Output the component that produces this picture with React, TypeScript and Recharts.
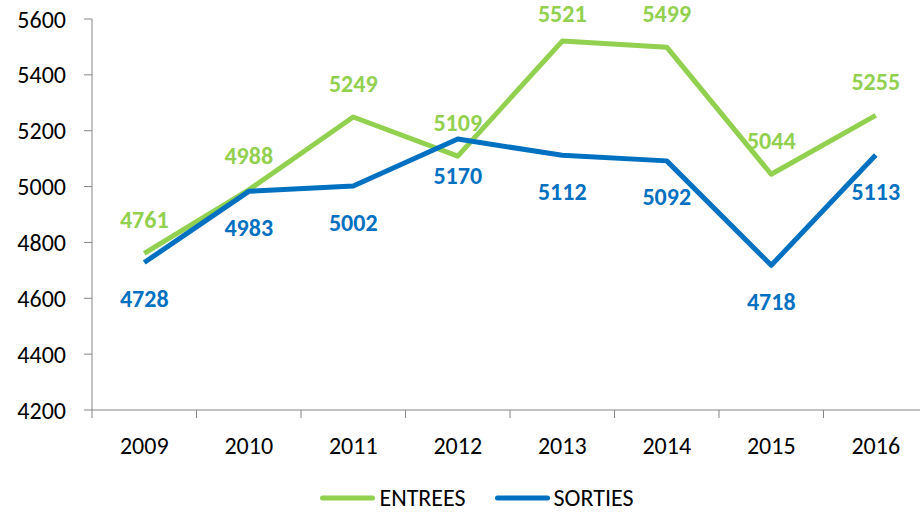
import { LineChart, Line, XAxis, YAxis, Legend, LabelList } from 'recharts'

const years = ['2009', '2010', '2011', '2012', '2013', '2014', '2015', '2016']
const entrees = [4761, 4988, 5249, 5109, 5521, 5499, 5044, 5255]
const sorties = [4728, 4983, 5002, 5170, 5112, 5092, 4718, 5113]
const yTicks = [4200, 4400, 4600, 4800, 5000, 5200, 5400, 5600]

const data = years.map((year, i) => ({ year, entrees: entrees[i], sorties: sorties[i] }))

const GREEN = '#92d050'
const BLUE = '#0070c0'
const AXIS = '#868686'
const FONT = 'Carlito, Calibri, Lato, sans-serif'
const FS = 24

const W = 940
const H = 514
const MARGIN = { top: 19, right: 12, bottom: 0, left: 0 }
const Y_W = 92
const X_H = 60
const LEG_H = 44
const BAND = (W - MARGIN.left - MARGIN.right - Y_W) / years.length
const AXIS_Y = H - MARGIN.bottom - LEG_H - X_H

function XTick(props: any) {
  const { x, payload, index } = props
  const last = index === years.length - 1
  return (
    <g>
      <line x1={x - BAND / 2} x2={x - BAND / 2} y1={AXIS_Y} y2={AXIS_Y + 8} stroke={AXIS} />
      {last && <line x1={x + BAND / 2} x2={x + BAND / 2} y1={AXIS_Y} y2={AXIS_Y + 8} stroke={AXIS} />}
      <text x={x} y={AXIS_Y + 35} textAnchor="middle" dominantBaseline="central" fontSize={FS} fill="#000" fontFamily={FONT}>
        {payload.value}
      </text>
    </g>
  )
}

// labels sit above (green) or below (blue) the point, kept inside the top edge like Excel does
const pointLabel = (color: string, dy: number) => (p: any) => (
  <text
    x={p.x}
    y={Math.max(p.y + dy, 13)}
    textAnchor="middle"
    dominantBaseline="central"
    fontSize={FS}
    fontWeight="bold"
    fill={color}
    fontFamily={FONT}
  >
    {p.value}
  </text>
)

function LegendBox() {
  const items = [
    { name: 'ENTREES', color: GREEN },
    { name: 'SORTIES', color: BLUE },
  ]
  return (
    <div
      style={{
        height: LEG_H,
        boxSizing: 'border-box',
        paddingTop: 14,
        paddingBottom: 2,
        paddingLeft: 26,
        display: 'flex',
        justifyContent: 'center',
        alignItems: 'center',
        gap: 29,
        fontFamily: FONT,
        fontSize: FS,
        lineHeight: 1,
        color: '#000',
      }}
    >
      {items.map(it => (
        <div key={it.name} style={{ display: 'flex', alignItems: 'center' }}>
          <svg width={55} height={10} style={{ marginRight: 4 }}>
            <line x1={2.5} x2={52.5} y1={5} y2={5} stroke={it.color} strokeWidth={5} strokeLinecap="round" />
          </svg>
          <span>{it.name}</span>
        </div>
      ))}
    </div>
  )
}

export default function App() {
  return (
    <div style={{ position: 'absolute', left: 0, top: 0, width: 920, height: 514, overflow: 'hidden', background: '#fff' }}>
      <LineChart width={W} height={H} data={data} margin={MARGIN}>
        <XAxis
          dataKey="year"
          height={X_H}
          padding={{ left: BAND / 2, right: BAND / 2 }}
          axisLine={{ stroke: AXIS }}
          tickLine={false}
          tick={<XTick />}
          interval={0}
        />
        <YAxis
          width={Y_W}
          domain={[4200, 5600]}
          ticks={yTicks}
          interval={0}
          allowDataOverflow
          axisLine={{ stroke: AXIS }}
          tickLine={{ stroke: AXIS }}
          tickSize={8}
          tickMargin={18}
          tick={{ fill: '#000', fontSize: FS, fontFamily: FONT }}
        />
        <Legend verticalAlign="bottom" height={LEG_H} content={<LegendBox />} />
        <Line
          dataKey="entrees"
          name="ENTREES"
          stroke={GREEN}
          strokeWidth={5}
          dot={false}
          strokeLinejoin="round"
          isAnimationActive={false}
        >
          <LabelList dataKey="entrees" content={pointLabel(GREEN, -34)} />
        </Line>
        <Line
          dataKey="sorties"
          name="SORTIES"
          stroke={BLUE}
          strokeWidth={5}
          dot={false}
          strokeLinejoin="round"
          isAnimationActive={false}
        >
          <LabelList dataKey="sorties" content={pointLabel(BLUE, 36)} />
        </Line>
      </LineChart>
    </div>
  )
}
